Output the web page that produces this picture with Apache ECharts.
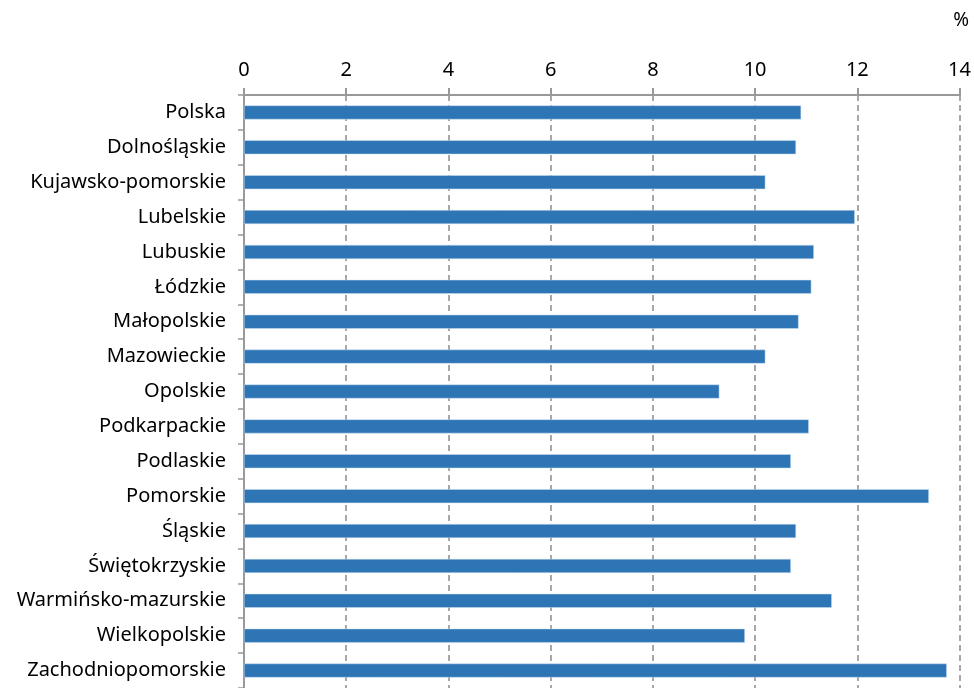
<!DOCTYPE html>
<html>
<head>
<meta charset="utf-8">
<script src="https://cdn.jsdelivr.net/npm/echarts@6/dist/echarts.min.js"></script>
<style>
html,body{margin:0;padding:0;background:#fff;}
#chart{width:974px;height:688px;}
</style>
</head>
<body>
<div id="chart"></div>
<script>
var categories = ["Polska","Dolnośląskie","Kujawsko-pomorskie","Lubelskie","Lubuskie","Łódzkie","Małopolskie","Mazowieckie","Opolskie","Podkarpackie","Podlaskie","Pomorskie","Śląskie","Świętokrzyskie","Warmińsko-mazurskie","Wielkopolskie","Zachodniopomorskie"];
var values = [10.9,10.8,10.2,11.95,11.15,11.1,10.85,10.2,9.3,11.05,10.7,13.4,10.8,10.7,11.5,9.8,13.75];
var unitLabel = "%";

var FONT = "'Noto Sans', sans-serif";
var chart = echarts.init(document.getElementById('chart'), null, {renderer:'canvas'});
chart.setOption({
  animation:false,
  backgroundColor:'#ffffff',
  grid:{left:244, right:14, top:95, height:602, containLabel:false},
  xAxis:{
    type:'value', position:'top', min:0, max:14, interval:2,
    axisLine:{show:true, lineStyle:{color:'#999999', width:2}},
    axisTick:{show:true, length:7, lineStyle:{color:'#999999', width:2}},
    axisLabel:{fontFamily:FONT, fontSize:20, color:'#000000', margin:15},
    splitLine:{show:true, lineStyle:{color:'#8c8c8c', width:1.5, type:[6,4]}}
  },
  yAxis:{
    type:'category', data:categories, inverse:true,
    axisLine:{show:true, lineStyle:{color:'#999999', width:2}},
    axisTick:{show:true, length:6, lineStyle:{color:'#999999', width:1.5}},
    axisLabel:{fontFamily:FONT, fontSize:20, color:'#000000', margin:18}
  },
  series:[{
    type:'bar', data:values, barWidth:14,
    itemStyle:{color:'#2E75B6', borderColor:'#cfe0f0', borderWidth:0.5}
  }],
  graphic:[{
    type:'text', right:5, top:11,
    style:{text:unitLabel, font:"19px 'Noto Sans', sans-serif", fill:'#000000'}
  }]
});
</script>
</body>
</html>
